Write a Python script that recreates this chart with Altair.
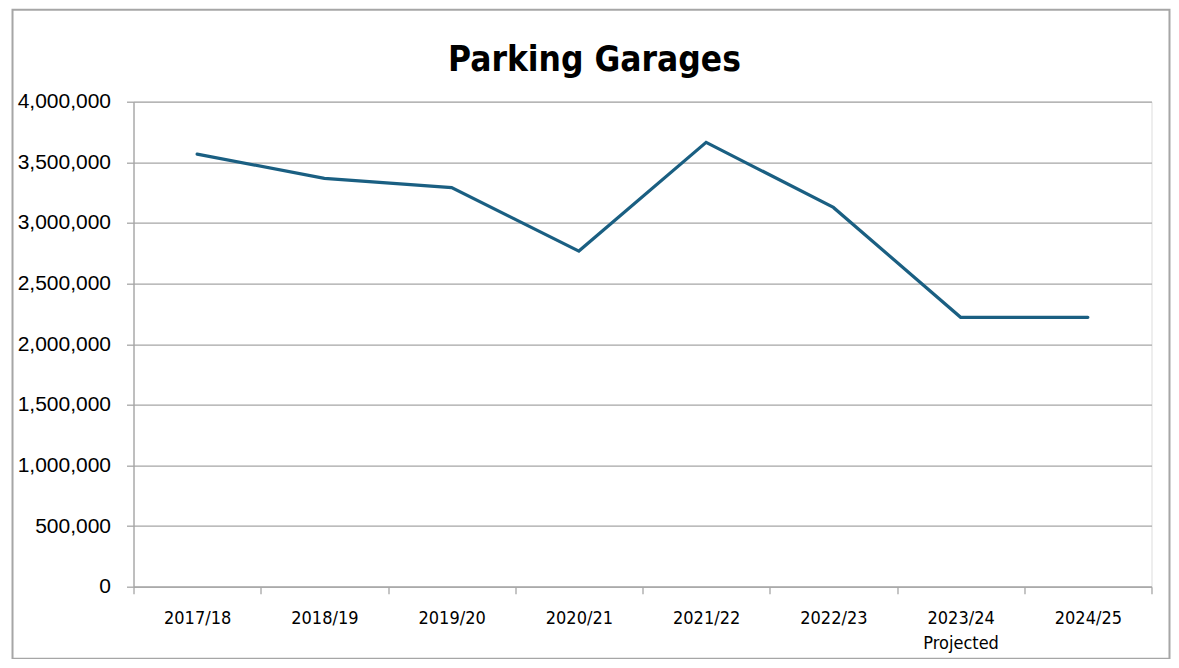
import altair as alt
import pandas as pd

years = ["2017/18", "2018/19", "2019/20", "2020/21", "2021/22", "2022/23", "2023/24", "2024/25"]
values = [3568000, 3368000, 3291000, 2768000, 3665000, 3128000, 2222000, 2222000]
y_ticks = [0, 500000, 1000000, 1500000, 2000000, 2500000, 3000000, 3500000, 4000000]
title_text = "Parking Garages"

df = pd.DataFrame({"year": years, "value": values})

GRID = "#a6a6a6"
LINE = "#1a5f82"
NARROW = "Liberation Sans Narrow, Arial Narrow, DejaVu Sans Condensed, sans-serif"

line = alt.Chart(df).mark_line(color=LINE, strokeWidth=3.2, strokeCap="round", strokeJoin="miter").encode(
    x=alt.X(
        "year:N",
        sort=years,
        bandPosition=0.5,
        scale=alt.Scale(type="band", paddingInner=0, paddingOuter=0),
        axis=alt.Axis(
            title=None,
            labelAngle=0,
            tickBand="extent",
            tickSize=7,
            tickColor=GRID,
            tickWidth=1.3,
            domainColor=GRID,
            domainWidth=1.3,
            labelFont=NARROW,
            labelFontSize=18,
            labelColor="#000000",
            labelPadding=16,
            labelBaseline="top",
            labelLineHeight=25,
            labelExpr="datum.value == '2023/24' ? ['2023/24', 'Projected'] : datum.value",
            grid=False,
        ),
    ),
    y=alt.Y(
        "value:Q",
        scale=alt.Scale(domain=[0, 4000000], nice=False),
        axis=alt.Axis(
            title=None,
            values=y_ticks,
            format=",d",
            tickSize=7,
            tickColor=GRID,
            tickWidth=1.3,
            domainColor=GRID,
            domainWidth=1.3,
            gridColor=GRID,
            gridWidth=1.3,
            labelFont="Liberation Sans, Arial, sans-serif",
            labelFontSize=21,
            labelColor="#000000",
            labelPadding=16,
        ),
    ),
)

single = pd.DataFrame({"t": [title_text]})

frame = alt.Chart(single).mark_rect(
    fill=None, stroke=GRID, strokeWidth=2
).encode(
    x=alt.value(-121), x2=alt.value(1036), y=alt.value(-92), y2=alt.value(557)
)

title = alt.Chart(single).mark_text(
    font=NARROW, fontSize=35, fontWeight="bold", color="#000000",
    align="center", baseline="alphabetic"
).encode(
    text="t:N", x=alt.value(461), y=alt.value(-31)
)

chart = alt.layer(frame, title, line).properties(
    width=1018,
    height=485,
    autosize="none",
    padding={"left": 125.5, "top": 93.7, "right": 19.5, "bottom": 72},
).configure_view(stroke=None).configure(background="white")

chart.save("out.html", embed_options={"renderer": "svg", "actions": False})
